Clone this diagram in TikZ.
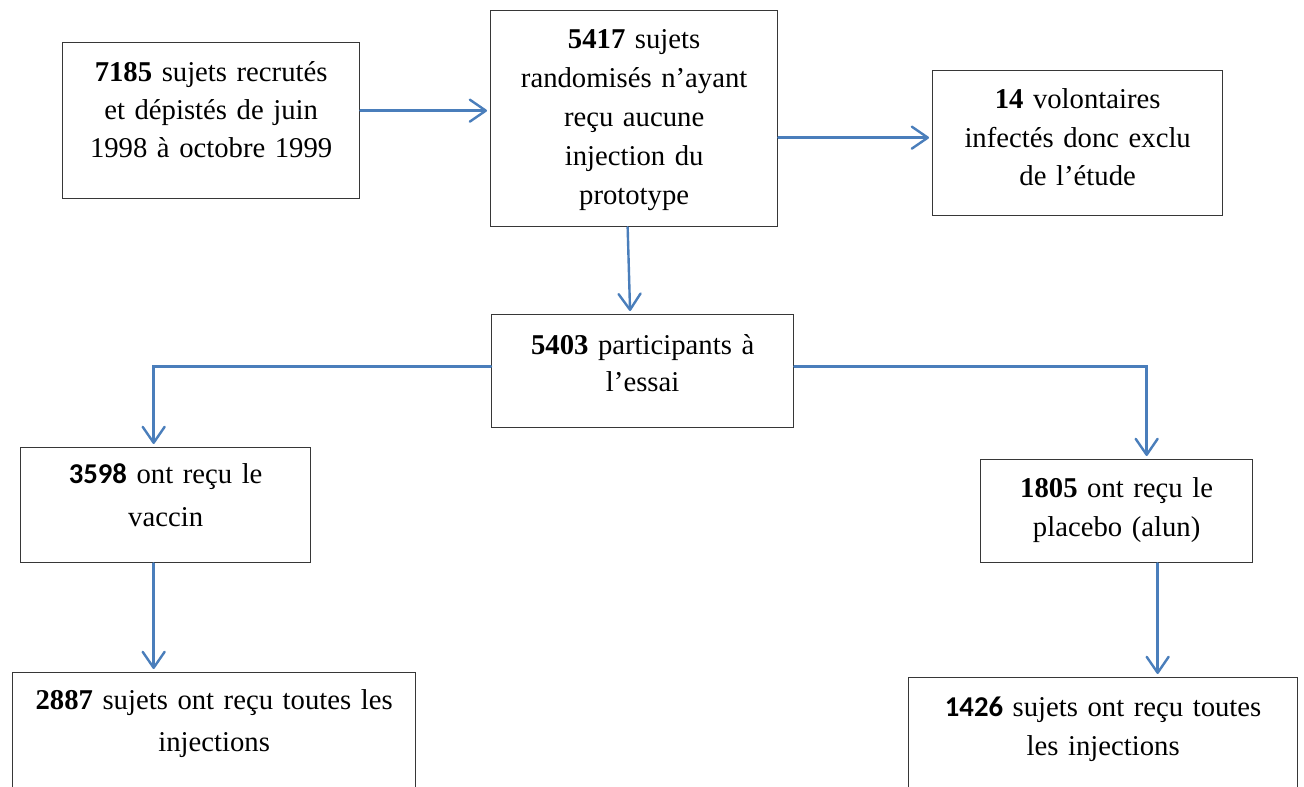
\documentclass[tikz,border=0pt]{standalone}
\usepackage{fontspec}
\setmainfont{Liberation Serif}[WordSpace=0.8]
\newfontfamily\calibri{Carlito}[WordSpace=0.8]
\usetikzlibrary{arrows.meta}
\usetikzlibrary{calc}

\definecolor{arrowblue}{RGB}{74,126,187}
\definecolor{boxgray}{RGB}{55,55,55}

\tikzset{
  box/.style={draw=boxgray, line width=1.3pt, anchor=north west, align=center,
    inner xsep=0pt, text height=0pt, font=\fontsize{28.7}{38}\selectfont},
  flow/.style={draw=arrowblue, line width=2.4pt, line cap=round, shorten >=3pt,
    -{Straight Barb[length=16pt, width=22pt, line cap=round, line join=round]}},
}

\begin{document}
\begin{tikzpicture}[x=1pt, y=-1pt]
      \useasboundingbox (0,0) rectangle (1304,787);
      \clip (0,0) rectangle (1304,787);

      \node[box, minimum width=297pt, text width=297pt, inner ysep=39pt, text depth=78pt] (recrutes) at (62,42)
        {\textbf{7185} sujets recrutés\\ et dépistés de juin\\ 1998 à octobre 1999};
      \node[box, minimum width=287pt, text width=287pt, inner ysep=38pt, text depth=140pt, font=\fontsize{28.7}{39}\selectfont] (randomises) at (490,10)
        {\textbf{5417} sujets\\ randomisés n’ayant\\ reçu aucune\\ injection du\\ prototype};
      \node[box, minimum width=290pt, text width=290pt, inner ysep=38pt, text depth=69pt, font=\fontsize{28.7}{38.5}\selectfont] (exclus) at (932,70)
        {\textbf{14} volontaires\\ infectés donc exclu\\ de l’étude};
      \node[box, minimum width=302pt, text width=302pt, inner ysep=40pt, text depth=33pt, font=\fontsize{28.7}{36.5}\selectfont] (essai) at (491,314)
        {\textbf{5403} participants à\\ l’essai};
      \node[box, minimum width=290pt, text width=290pt, inner ysep=36pt, text depth=43pt, font=\fontsize{28.7}{43}\selectfont] (vaccin) at (20,447)
        {{\calibri\bfseries 3598} ont reçu le\\ vaccin};
      \node[box, minimum width=272pt, text width=272pt, inner ysep=38pt, text depth=27pt, font=\fontsize{28.7}{39}\selectfont] (placebo) at (980,459)
        {\textbf{1805} ont reçu le\\ placebo (alun)};
      \node[box, minimum width=403pt, text width=403pt, inner ysep=37pt, text depth=80pt, font=\fontsize{28.7}{42}\selectfont] (toutesV) at (12,672)
        {\textbf{2887} sujets ont reçu toutes les\\ injections};
      \node[box, minimum width=389pt, text width=389pt, inner ysep=39pt, text depth=80pt, font=\fontsize{28.7}{39}\selectfont] (toutesP) at (908,677)
        {{\calibri\bfseries 1426} sujets ont reçu toutes\\ les injections};

      \draw[flow] ([yshift=10pt]recrutes.east) -- ([yshift=10pt]recrutes.east -| randomises.west);
      \draw[flow] ([yshift=-19pt]randomises.east) -- ([yshift=-19pt]randomises.east -| exclus.west);
      \draw[flow] ([xshift=-6.5pt]randomises.south) -- ([xshift=-12.5pt]essai.north);
      \draw[flow] ([yshift=4.5pt]essai.west) -| ([xshift=-12pt]vaccin.north);
      \draw[flow] ([yshift=4.5pt]essai.east) -| ([xshift=30pt]placebo.north);
      \draw[flow] ([xshift=-12pt]vaccin.south) -- ([xshift=-12pt]vaccin.south |- toutesV.north);
      \draw[flow] ([xshift=41pt]placebo.south) -- ([xshift=41pt]placebo.south |- toutesP.north);
    \end{tikzpicture}
\end{document}
